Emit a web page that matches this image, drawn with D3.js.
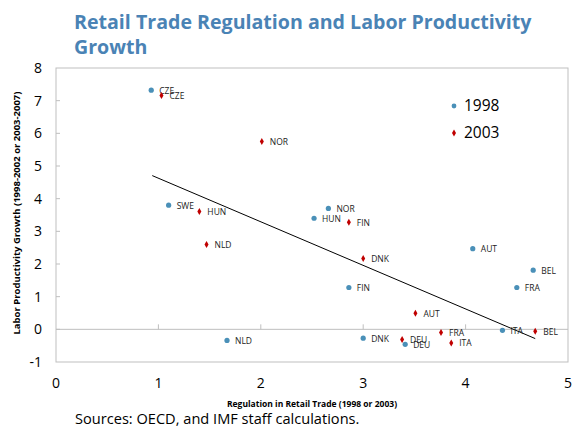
<!DOCTYPE html>
<html>
<head>
<meta charset="utf-8">
<script src="https://cdn.jsdelivr.net/npm/d3@7"></script>
<style>
  body { margin: 0; background: #fff; }
  svg { display: block; font-family: "Open Sans", "DejaVu Sans", sans-serif; }
</style>
</head>
<body>
<div id="chart"></div>
<script>
// 1998 observations
const countries98 = ["CZE", "SWE", "HUN", "NOR", "NLD", "FIN", "AUT", "BEL", "FRA", "ITA", "DNK", "DEU"];
const reg98 = [0.93, 1.10, 2.52, 2.66, 1.67, 2.86, 4.07, 4.66, 4.50, 4.36, 3.00, 3.41];
const growth98 = [7.32, 3.80, 3.40, 3.70, -0.34, 1.28, 2.47, 1.81, 1.28, -0.03, -0.27, -0.46];

// 2003 observations
const countries03 = ["CZE", "NOR", "HUN", "NLD", "FIN", "DNK", "AUT", "FRA", "DEU", "ITA", "BEL"];
const reg03 = [1.03, 2.01, 1.40, 1.47, 2.86, 3.00, 3.51, 3.76, 3.38, 3.86, 4.68];
const growth03 = [7.16, 5.75, 3.61, 2.60, 3.28, 2.17, 0.49, -0.10, -0.31, -0.42, -0.06];

// fitted line y = a + b*x over x range
const trendRange = [0.94, 4.68];
const trendIntercept = 5.96;
const trendSlope = -1.334;

const xTicks = [0, 1, 2, 3, 4, 5];
const yTicks = [-1, 0, 1, 2, 3, 4, 5, 6, 7, 8];

const width = 576, height = 429;
const margin = { top: 68, right: 8, bottom: 67, left: 56 };

const svg = d3.select("#chart").append("svg")
  .attr("width", width)
  .attr("height", height);

const x = d3.scaleLinear().domain([0, 5]).range([margin.left, width - margin.right]);
const y = d3.scaleLinear().domain([-1, 8]).range([height - margin.bottom, margin.top]);

const blue = "#4a90b8";
const red = "#c00000";

// title
svg.append("text")
  .attr("x", 74).attr("y", 29)
  .style("font-size", "19.6px").style("font-weight", "bold")
  .attr("fill", "#4a83b5")
  .text("Retail Trade Regulation and Labor Productivity");
svg.append("text")
  .attr("x", 74).attr("y", 54)
  .style("font-size", "19.6px").style("font-weight", "bold")
  .attr("fill", "#4a83b5")
  .text("Growth");

// plot frame
svg.append("rect")
  .attr("x", x(0)).attr("y", y(8))
  .attr("width", x(5) - x(0)).attr("height", y(-1) - y(8))
  .attr("fill", "none").attr("stroke", "#bfbfbf");

// y ticks (inside) and labels
svg.append("g").selectAll("line")
  .data(yTicks.filter(d => d > -1 && d < 8))
  .join("line")
  .attr("x1", x(0)).attr("x2", x(0) + 4)
  .attr("y1", d => y(d)).attr("y2", d => y(d))
  .attr("stroke", "#bfbfbf");

svg.append("g").selectAll("text")
  .data(yTicks)
  .join("text")
  .attr("x", 42).attr("y", d => y(d))
  .attr("dy", "0.35em")
  .attr("text-anchor", "end")
  .style("font-size", "14px")
  .attr("fill", "#000")
  .text(d => d);

// zero line with ticks
svg.append("line")
  .attr("x1", x(0)).attr("x2", x(5))
  .attr("y1", y(0)).attr("y2", y(0))
  .attr("stroke", "#bfbfbf");

svg.append("g").selectAll("line")
  .data(xTicks.filter(d => d > 0 && d < 5))
  .join("line")
  .attr("x1", d => x(d)).attr("x2", d => x(d))
  .attr("y1", y(0)).attr("y2", y(0) - 5)
  .attr("stroke", "#bfbfbf");

svg.append("g").selectAll("text")
  .data(xTicks)
  .join("text")
  .attr("x", d => x(d)).attr("y", 388)
  .attr("text-anchor", "middle")
  .style("font-size", "14px")
  .text(d => d);

// axis titles
svg.append("text")
  .attr("x", (x(0) + x(5)) / 2).attr("y", 407)
  .attr("text-anchor", "middle")
  .style("font-size", "8.5px").style("font-weight", "bold")
  .text("Regulation in Retail Trade (1998 or 2003)");

svg.append("text")
  .attr("transform", `translate(20,${(y(8) + y(-1)) / 2 - 2}) rotate(-90)`)
  .attr("text-anchor", "middle")
  .style("font-size", "9.5px").style("font-weight", "bold")
  .text("Labor Productivity Growth (1998-2002 or 2003-2007)");

svg.append("text")
  .attr("x", 75).attr("y", 424)
  .style("font-size", "14.6px")
  .text("Sources: OECD, and IMF staff calculations.");

// trend line
svg.append("line")
  .attr("x1", x(trendRange[0])).attr("y1", y(trendIntercept + trendSlope * trendRange[0]))
  .attr("x2", x(trendRange[1])).attr("y2", y(trendIntercept + trendSlope * trendRange[1]))
  .attr("stroke", "#000").attr("stroke-width", 1);

const data98 = countries98.map((c, i) => ({ c, rx: reg98[i], g: growth98[i] }));
const data03 = countries03.map((c, i) => ({ c, rx: reg03[i], g: growth03[i] }));

const diamond = d3.symbol().type(d3.symbolDiamond).size(14);

// 1998 points
svg.append("g").selectAll("circle")
  .data(data98)
  .join("circle")
  .attr("cx", d => x(d.rx)).attr("cy", d => y(d.g))
  .attr("r", 2.6)
  .attr("fill", blue);

svg.append("g").selectAll("text")
  .data(data98)
  .join("text")
  .attr("x", d => x(d.rx) + 8).attr("y", d => y(d.g))
  .attr("dy", "0.4em")
  .style("font-size", "8.5px")
  .attr("fill", "#222")
  .text(d => d.c);

// 2003 points
svg.append("g").selectAll("path")
  .data(data03)
  .join("path")
  .attr("transform", d => `translate(${x(d.rx)},${y(d.g)})`)
  .attr("d", diamond)
  .attr("fill", red);

svg.append("g").selectAll("text")
  .data(data03)
  .join("text")
  .attr("x", d => x(d.rx) + 8).attr("y", d => y(d.g))
  .attr("dy", "0.4em")
  .style("font-size", "8.5px")
  .attr("fill", "#222")
  .text(d => d.c);

// legend
const legend = svg.append("g").attr("transform", "translate(454,106)");
legend.append("circle").attr("r", 2.4).attr("fill", blue);
legend.append("text").attr("x", 10).attr("dy", "0.35em")
  .style("font-size", "15.5px").text("1998");
legend.append("path").attr("transform", "translate(0,27)").attr("d", diamond).attr("fill", red);
legend.append("text").attr("x", 10).attr("y", 27).attr("dy", "0.35em")
  .style("font-size", "15.5px").text("2003");
</script>
</body>
</html>
